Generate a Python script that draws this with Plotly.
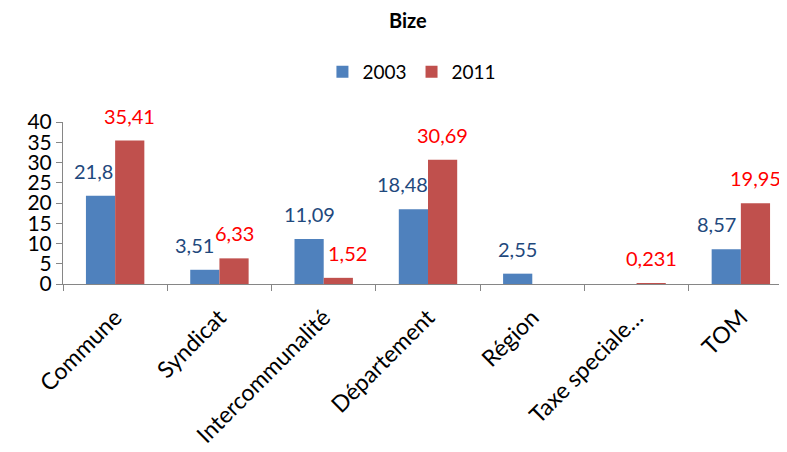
import plotly.graph_objects as go

categories = ["Commune", "Syndicat", "Intercommunalité", "Département", "Région", "Taxe speciale…", "TOM"]
values_2003 = [21.8, 3.51, 11.09, 18.48, 2.55, None, 8.57]
values_2011 = [35.41, 6.33, 1.52, 30.69, None, 0.231, 19.95]
labels_2003 = ["21,8", "3,51", "11,09", "18,48", "2,55", "", "8,57"]
labels_2011 = ["35,41", "6,33", "1,52", "30,69", "", "0,231", "19,95"]

# per-label horizontal nudges (px), as placed in the original chart
nudge_2003 = [-7, -10, 0, -11, 0, 0, -10]
nudge_2011 = [0, 0, 9, 0, 0, 0, 0]

FONT = "Lato"
BLUE, RED = "#4F81BD", "#C0504D"
AXIS = "#868686"

W, H = 787, 452
ML, MR, MT, MB = 55, 2, 114, 176
BARGAP = 0.44
cat_w = (W - ML - MR) / len(categories)
half = cat_w * (1 - BARGAP) / 4  # offset of each bar centre from category centre

fig = go.Figure()
fig.add_trace(go.Bar(name="2003", x=categories, y=values_2003, marker=dict(color=BLUE, line=dict(width=0))))
fig.add_trace(go.Bar(name="2011", x=categories, y=values_2011, marker=dict(color=RED, line=dict(width=0))))

annotations = []
for cat, v, t, n in zip(categories, values_2003, labels_2003, nudge_2003):
    if v is None:
        continue
    annotations.append(dict(x=cat, y=v, xref="x", yref="y", text=t, showarrow=False,
                            xanchor="center", yanchor="bottom", xshift=-half + n, yshift=11,
                            font=dict(size=20, family=FONT, color="#1F497D")))
for cat, v, t, n in zip(categories, values_2011, labels_2011, nudge_2011):
    if v is None:
        continue
    annotations.append(dict(x=cat, y=v, xref="x", yref="y", text=t, showarrow=False,
                            xanchor="center", yanchor="bottom", xshift=half + n, yshift=11,
                            font=dict(size=20, family=FONT, color="#FF0000")))

fig.update_layout(
    width=W, height=H,
    margin=dict(l=ML, r=MR, t=MT, b=MB, autoexpand=False),
    paper_bgcolor="white", plot_bgcolor="white",
    font=dict(family=FONT, color="black"),
    barmode="group", bargap=BARGAP, bargroupgap=0,
    title=dict(text="<b>Bize</b>", x=0.508, xanchor="center", y=0.971, yanchor="middle",
               xref="container", yref="container",
               font=dict(size=20, family=FONT, color="black")),
    legend=dict(orientation="h", x=0.478, xanchor="center", y=1.309, yanchor="middle",
                font=dict(size=19, family=FONT), traceorder="normal", itemwidth=30),
    annotations=annotations,
    showlegend=True,
)
fig.update_xaxes(
    tickangle=-45, tickfont=dict(size=23, family=FONT),
    showline=True, linecolor=AXIS, linewidth=1,
    ticks="outside", tickson="boundaries", ticklen=6, tickcolor=AXIS,
    ticklabelstandoff=10,
    showgrid=False, automargin=False,
)
fig.update_yaxes(
    range=[0, 40], dtick=5, tickfont=dict(size=21, family=FONT),
    showline=True, linecolor=AXIS, linewidth=1,
    ticks="outside", ticklen=6, tickcolor=AXIS,
    showgrid=False, zeroline=False, automargin=False,
)

fig.write_html("out.html")
